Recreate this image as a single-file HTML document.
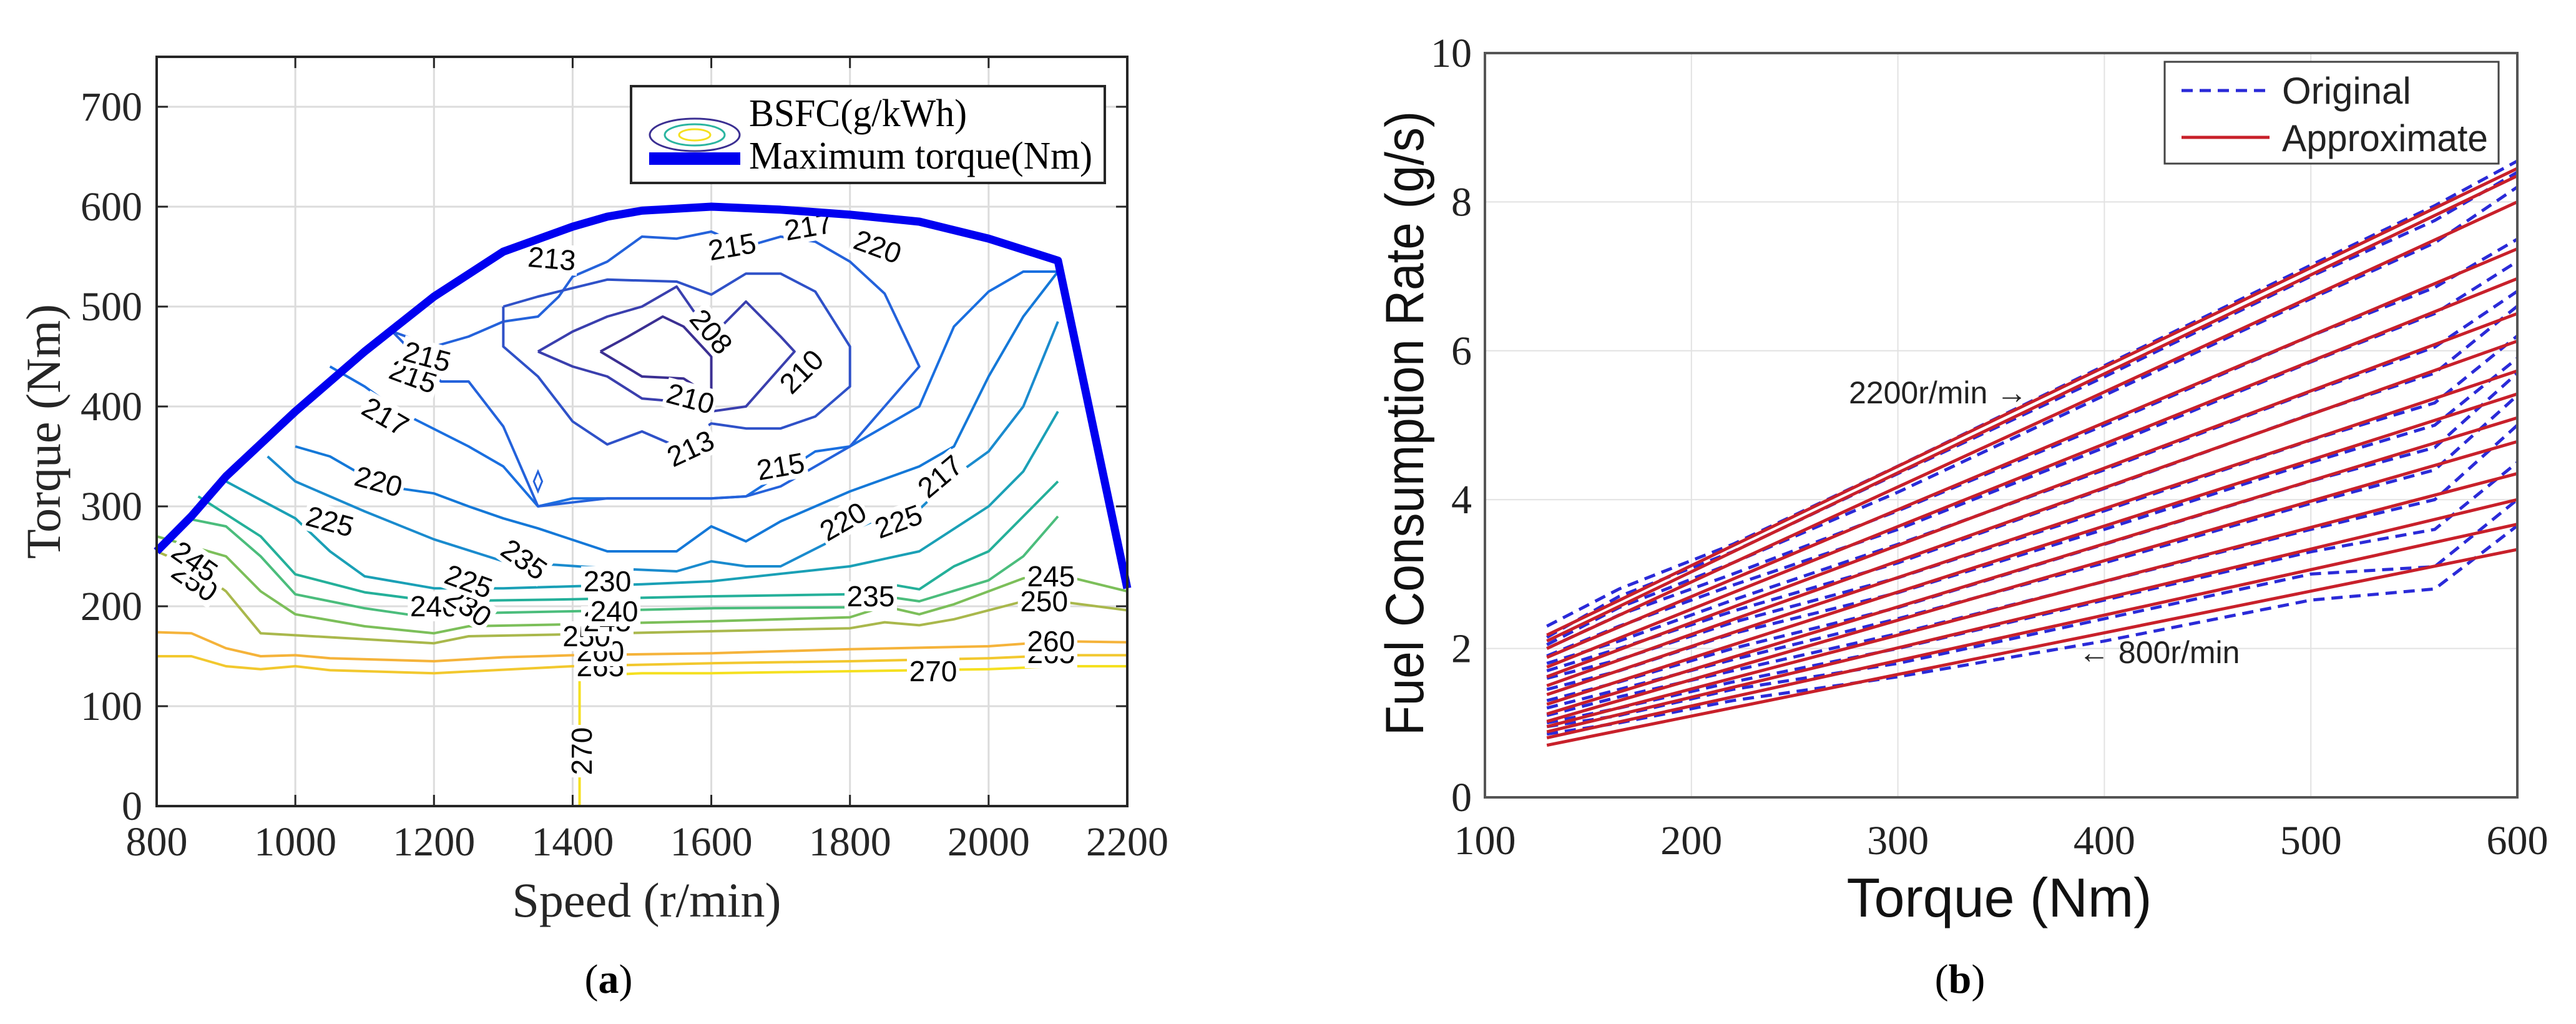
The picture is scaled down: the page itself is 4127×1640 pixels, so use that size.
<!DOCTYPE html>
<html><head><meta charset="utf-8"><style>
html,body{margin:0;padding:0;background:#fff;}
svg{display:block;}
</style></head><body>
<svg id="fig" width="4127" height="1640" viewBox="0 0 4127 1640" xmlns="http://www.w3.org/2000/svg">
<rect width="4127" height="1640" fill="#fff"/>
<g id="pa"></g>
<g id="pb"></g>
</svg>
<script>
// ---------- Panel (a) data ----------
const aXTicks = [800,1000,1200,1400,1600,1800,2000,2200];
const aYTicks = [0,100,200,300,400,500,600,700];
const maxTorqueSpeed = [800,850,900,1000,1100,1200,1300,1400,1450,1500,1600,1700,1800,1900,2000,2100,2200];
const maxTorqueVal   = [255,290,330,395,455,510,555,580,590,596,600,597,592,585,568,546,218];
const contourLevels = [270,265,260,250,245,240,235,230,225,220,217,215,213,210,208];
const contourColors = ['#f5e020','#f2c82e','#f5b33a','#a9b84c','#7cbf5a','#4bbd7c','#24b09a','#1aa0b6','#1a8bce','#1478d8','#1a6fe0','#2462db','#2f51c8','#3a3fae','#3b2f92'];
const contourSpeeds = [
 [1410,1410,1500,1600,1800,2000,2100,2200],
 [800,850,900,950,1000,1050,1200,1400,1600,1800,2000,2100,2200],
 [800,850,900,950,1000,1050,1200,1300,1400,1600,1800,2000,2100,2200],
 [800,850,900,950,1000,1200,1250,1400,1600,1800,1850,1900,1950,2000,2050,2100,2200],
 [800,900,950,1000,1100,1200,1250,1400,1600,1800,1850,1900,1950,2000,2050,2100,2200],
 [850,900,950,1000,1100,1200,1250,1400,1600,1800,1850,1900,2000,2050,2100],
 [860,950,1000,1100,1200,1400,1600,1800,1850,1900,1950,2000,2050,2100],
 [900,1000,1050,1100,1200,1300,1400,1500,1600,1800,1900,2000,2050,2100],
 [960,1000,1100,1200,1300,1450,1550,1600,1650,1700,1800,1850,1900,1950,2000,2050,2100],
 [1000,1050,1100,1150,1200,1250,1300,1350,1450,1550,1600,1650,1700,1800,1900,1950,2000,2050,2100],
 [1050,1100,1150,1250,1300,1350,1400,1600,1650,1750,1800,1900,1950,2000,2050,2100],
 [1140,1210,1250,1300,1350,1450,1500,1550,1600,1650,1700,1800,1850,1900,1850,1800,1750,1700,1650,1600,1550,1500,1450,1400,1380,1350,1300,1250,1200,1140],
 [1300,1350,1450,1550,1600,1650,1700,1750,1800,1800,1750,1700,1650,1600,1550,1500,1450,1400,1350,1300,1300],
 [1350,1400,1450,1500,1550,1600,1650,1700,1720,1650,1600,1550,1500,1450,1400,1350],
 [1440,1480,1530,1560,1600,1600,1560,1500,1440]
];
const contourTorques = [
 [0,130,133,133,135,137,140,140],
 [150,150,140,137,140,136,133,140,143,145,148,151,151],
 [174,173,158,150,151,148,145,149,151,153,157,160,165,164],
 [255,240,215,173,171,163,170,172,175,178,184,181,187,196,205,205,196],
 [270,250,215,192,180,173,180,182,185,189,200,192,202,215,228,232,215],
 [287,280,250,212,198,188,193,195,198,199,210,205,226,250,290],
 [310,270,232,214,205,207,210,212,223,217,240,255,290,325],
 [325,288,255,230,218,218,220,222,225,240,255,300,335,395],
 [350,325,295,267,245,238,235,245,240,240,275,290,297,330,355,400,485],
 [360,350,330,318,313,300,288,278,255,255,280,265,285,315,340,360,430,490,535],
 [440,420,395,360,340,300,308,308,310,355,360,400,480,515,535,535],
 [475,425,425,380,300,308,308,308,308,310,320,360,400,440,513,545,565,570,560,575,568,570,545,530,510,490,485,470,460,475],
 [500,510,527,525,512,533,533,515,460,420,390,378,378,383,360,375,362,385,430,460,500],
 [455,475,490,500,520,470,505,470,455,400,395,405,408,430,440,455],
 [455,470,490,480,450,410,428,430,455]
];
const aLabelText  = ['270','270','265','265','260','260','250','250','250','245','245','245','240','240','235','235','230','230','225','225','225','220','220','220','217','217','217','215','215','215','215','213','213','210','210','208'];
const aLabelSpeed = [1413,1920,1440,2090,1440,2090,1420,2080,855,1450,855,2090,1200,1460,1830,1330,1250,1450,1050,1250,1870,1120,1790,1840,1130,1930,1740,1170,1190,1700,1630,1370,1570,1570,1730,1600];
const aLabelTorq  = [55,135,140,153,155,165,170,205,225,185,245,230,200,195,210,247,200,225,285,225,285,325,285,560,390,330,580,430,450,340,560,548,358,408,435,475];
const aLabelRot   = [-90,0,0,0,0,0,0,0,35,0,35,0,0,0,0,35,35,0,15,20,-20,15,-30,20,30,-40,-10,20,15,-10,-10,5,-25,15,-45,50];

// ---------- Panel (b) data ----------
const bXTicks = [100,200,300,400,500,600];
const bYTicks = [0,2,4,6,8,10];
const approxStart = [0.70,0.80,0.88,0.95,1.02,1.12,1.25,1.38,1.50,1.62,1.75,1.88,2.00,2.10,2.18];
const approxEnd   = [3.33,3.67,4.00,4.35,4.78,5.10,5.42,5.73,6.13,6.50,6.97,7.37,8.00,8.35,8.45];
const origTorque = [130,165,220,300,400,500,560,600];
const origRates = [
 [0.85,1.00,1.30,1.62,2.10,2.65,2.80,3.65],
 [0.95,1.10,1.45,1.80,2.40,3.00,3.10,4.00],
 [1.00,1.20,1.55,2.00,2.65,3.30,3.60,4.50],
 [1.10,1.35,1.70,2.20,2.90,3.60,4.00,5.00],
 [1.20,1.45,1.85,2.40,3.15,3.95,4.40,5.40],
 [1.30,1.55,2.00,2.55,3.40,4.25,4.70,5.70],
 [1.45,1.70,2.20,2.75,3.60,4.50,5.00,5.90],
 [1.60,1.85,2.35,2.95,3.85,4.80,5.30,6.20],
 [1.70,2.00,2.50,3.15,4.15,5.15,5.70,6.60],
 [1.80,2.10,2.65,3.40,4.40,5.45,6.05,6.80],
 [1.90,2.30,2.85,3.60,4.70,5.85,6.50,7.20],
 [2.00,2.45,3.00,3.85,5.00,6.20,6.85,7.50],
 [2.05,2.55,3.15,4.10,5.40,6.70,7.45,8.20],
 [2.15,2.70,3.30,4.35,5.65,7.00,7.75,8.40],
 [2.30,2.80,3.40,4.45,5.80,7.15,7.95,8.55]
];

const NS='http://www.w3.org/2000/svg';
function mk(parent, tag, attrs, text){
  const e=document.createElementNS(NS,tag);
  for(const k in attrs) e.setAttribute(k,attrs[k]);
  if(text!==undefined) e.textContent=text;
  parent.appendChild(e); return e;
}
// ---------- Panel (a) ----------
const A={l:251,r:1806,t:91,b:1291,x0:800,x1:2200,y0:0,y1:750};
const ax=v=>A.l+(v-A.x0)/(A.x1-A.x0)*(A.r-A.l);
const ay=v=>A.b-(v-A.y0)/(A.y1-A.y0)*(A.b-A.t);
const pa=document.getElementById('pa');
const SERIF='"Liberation Serif", serif', SANS='"Liberation Sans", sans-serif';

aXTicks.forEach(v=>{
  const g=mk(pa,'line',{x1:ax(v),x2:ax(v),y1:A.t,y2:A.b,stroke:'#dcdcdc','stroke-width':3});
  
  
  const t=mk(pa,'text',{x:ax(v),y:1370,'font-family':SERIF,'font-size':66,'text-anchor':'middle',fill:'#262626'},String(v));
  
  
  mk(pa,'line',{x1:ax(v),x2:ax(v),y1:A.b,y2:A.b-18,stroke:'#262626','stroke-width':3});
  mk(pa,'line',{x1:ax(v),x2:ax(v),y1:A.t,y2:A.t+18,stroke:'#262626','stroke-width':3});
});
aYTicks.forEach(v=>{
  const g=mk(pa,'line',{x1:A.l,x2:A.r,y1:ay(v),y2:ay(v),stroke:'#dcdcdc','stroke-width':3});
  
  
  const t=mk(pa,'text',{x:228,y:ay(v)+22,'font-family':SERIF,'font-size':66,'text-anchor':'end',fill:'#262626'},String(v));
  
  
  mk(pa,'line',{x1:A.l,x2:A.l+18,y1:ay(v),y2:ay(v),stroke:'#262626','stroke-width':3});
  mk(pa,'line',{x1:A.r,x2:A.r-18,y1:ay(v),y2:ay(v),stroke:'#262626','stroke-width':3});
});
contourLevels.forEach((lv,i)=>{
  const pts=contourSpeeds[i].map((s,j)=>ax(s)+','+ay(contourTorques[i][j])).join(' ');
  const p=mk(pa,'polyline',{points:pts,fill:'none',stroke:contourColors[i],'stroke-width':4,'stroke-linejoin':'round'});
  
  
});
const dm=mk(pa,'polygon',{points:[[1350,335],[1356,325],[1350,315],[1344,325]].map(q=>ax(q[0])+','+ay(q[1])).join(' '),fill:'none',stroke:'#2462db','stroke-width':3});


aLabelText.forEach((s,i)=>{
  const x=ax(aLabelSpeed[i]), y=ay(aLabelTorq[i]);
  mk(pa,'rect',{x:x-42,y:y-24,width:84,height:48,fill:'#fff',transform:`rotate(${aLabelRot[i]} ${x} ${y})`});
  const t=mk(pa,'text',{x:x,y:y+16,'font-family':SANS,'font-size':46,'text-anchor':'middle',fill:'#000',transform:`rotate(${aLabelRot[i]} ${x} ${y})`},s);
  
  
});
const mt=mk(pa,'polyline',{points:maxTorqueSpeed.map((s,j)=>ax(s)+','+ay(maxTorqueVal[j])).join(' '),fill:'none',stroke:'#0000f0','stroke-width':13,'stroke-linejoin':'round'});


const fr=mk(pa,'rect',{x:A.l,y:A.t,width:A.r-A.l,height:A.b-A.t,fill:'none',stroke:'#262626','stroke-width':4});


const lga=mk(pa,'g',{});


mk(lga,'rect',{x:1011,y:138,width:759,height:155,fill:'#fff',stroke:'#262626','stroke-width':4});
mk(lga,'ellipse',{cx:1113,cy:216,rx:72,ry:26,fill:'none',stroke:'#3b2f92','stroke-width':3});
mk(lga,'ellipse',{cx:1113,cy:216,rx:48,ry:17,fill:'none',stroke:'#2ab5a0','stroke-width':3});
mk(lga,'ellipse',{cx:1113,cy:216,rx:25,ry:9,fill:'none',stroke:'#f5e020','stroke-width':3});
const l1=mk(lga,'text',{x:1200,y:202,'font-family':SERIF,'font-size':62,textLength:349,lengthAdjust:'spacingAndGlyphs',fill:'#000'},'BSFC(g/kWh)');


mk(lga,'rect',{x:1040,y:244,width:146,height:20,fill:'#0000f0'});
const l2=mk(lga,'text',{x:1200,y:270,'font-family':SERIF,'font-size':62,textLength:550,lengthAdjust:'spacingAndGlyphs',fill:'#000'},'Maximum torque(Nm)');


const xta=mk(pa,'text',{x:1036,y:1468,'font-family':SERIF,'font-size':78,'text-anchor':'middle',fill:'#262626'},'Speed (r/min)');


const yta=mk(pa,'text',{x:96,y:691,'font-family':SERIF,'font-size':78,'text-anchor':'middle',fill:'#262626',transform:'rotate(-90 96 691)'},'Torque (Nm)');


const capa=mk(pa,'text',{x:975,y:1590,'font-family':SERIF,'font-size':66,'text-anchor':'middle',fill:'#000'},'(');


mk(capa,'tspan',{'font-weight':'bold'},'a');
mk(capa,'tspan',{},')');

// ---------- Panel (b) ----------
const B={l:2379,r:4033,t:85,b:1277,x0:100,x1:600,y0:0,y1:10};
const bx=v=>B.l+(v-B.x0)/(B.x1-B.x0)*(B.r-B.l);
const by=v=>B.b-(v-B.y0)/(B.y1-B.y0)*(B.b-B.t);
const pb=document.getElementById('pb');
bXTicks.forEach(v=>{
  const g=mk(pb,'line',{x1:bx(v),x2:bx(v),y1:B.t,y2:B.b,stroke:'#e2e2e2','stroke-width':2});
  
  
  const t=mk(pb,'text',{x:bx(v),y:1368,'font-family':SERIF,'font-size':66,'text-anchor':'middle',fill:'#222'},String(v));
  
  
});
bYTicks.forEach(v=>{
  const g=mk(pb,'line',{x1:B.l,x2:B.r,y1:by(v),y2:by(v),stroke:'#e2e2e2','stroke-width':2});
  
  
  const t=mk(pb,'text',{x:2358,y:by(v)+22,'font-family':SERIF,'font-size':66,'text-anchor':'end',fill:'#222'},String(v));
  
  
});
origRates.forEach((row,i)=>{
  const p=mk(pb,'polyline',{points:origTorque.map((t,j)=>bx(t)+','+by(row[j])).join(' '),fill:'none',stroke:'#2a2ad8','stroke-width':5,'stroke-dasharray':'18 11'});
  
  
});
approxStart.forEach((s,i)=>{
  const l=mk(pb,'line',{x1:bx(130),y1:by(s),x2:bx(600),y2:by(approxEnd[i]),stroke:'#c8202a','stroke-width':5});
  
  
});
const frb=mk(pb,'rect',{x:B.l,y:B.t,width:B.r-B.l,height:B.b-B.t,fill:'none',stroke:'#555','stroke-width':4});


const an1=mk(pb,'text',{x:2962,y:646,'font-family':SANS,'font-size':50,fill:'#222'},'2200r/min →');


const an2=mk(pb,'text',{x:3330,y:1062,'font-family':SANS,'font-size':50,fill:'#222'},'← 800r/min');


const lgb=mk(pb,'g',{});


mk(lgb,'rect',{x:3468,y:99,width:535,height:163,fill:'#fff',stroke:'#444','stroke-width':3});
mk(lgb,'line',{x1:3495,x2:3636,y1:145,y2:145,stroke:'#2a2ad8','stroke-width':5,'stroke-dasharray':'18 11'});
const lb1=mk(lgb,'text',{x:3656,y:166,'font-family':SANS,'font-size':60,fill:'#222'},'Original');


mk(lgb,'line',{x1:3495,x2:3636,y1:220,y2:220,stroke:'#c8202a','stroke-width':5});
const lb2=mk(lgb,'text',{x:3656,y:242,'font-family':SANS,'font-size':60,textLength:330,lengthAdjust:'spacingAndGlyphs',fill:'#222'},'Approximate');


const xtb=mk(pb,'text',{x:3203,y:1468,'font-family':SANS,'font-size':88,'text-anchor':'middle',fill:'#111'},'Torque (Nm)');


const ytb=mk(pb,'text',{x:2280,y:678,'font-family':SANS,'font-size':86,'text-anchor':'middle',textLength:1000,lengthAdjust:'spacingAndGlyphs',fill:'#111',transform:'rotate(-90 2280 678)'},'Fuel Consumption Rate (g/s)');


const capb=mk(pb,'text',{x:3140,y:1590,'font-family':SERIF,'font-size':66,'text-anchor':'middle',fill:'#000'},'(');


mk(capb,'tspan',{'font-weight':'bold'},'b');
mk(capb,'tspan',{},')');
</script>
</body></html>
